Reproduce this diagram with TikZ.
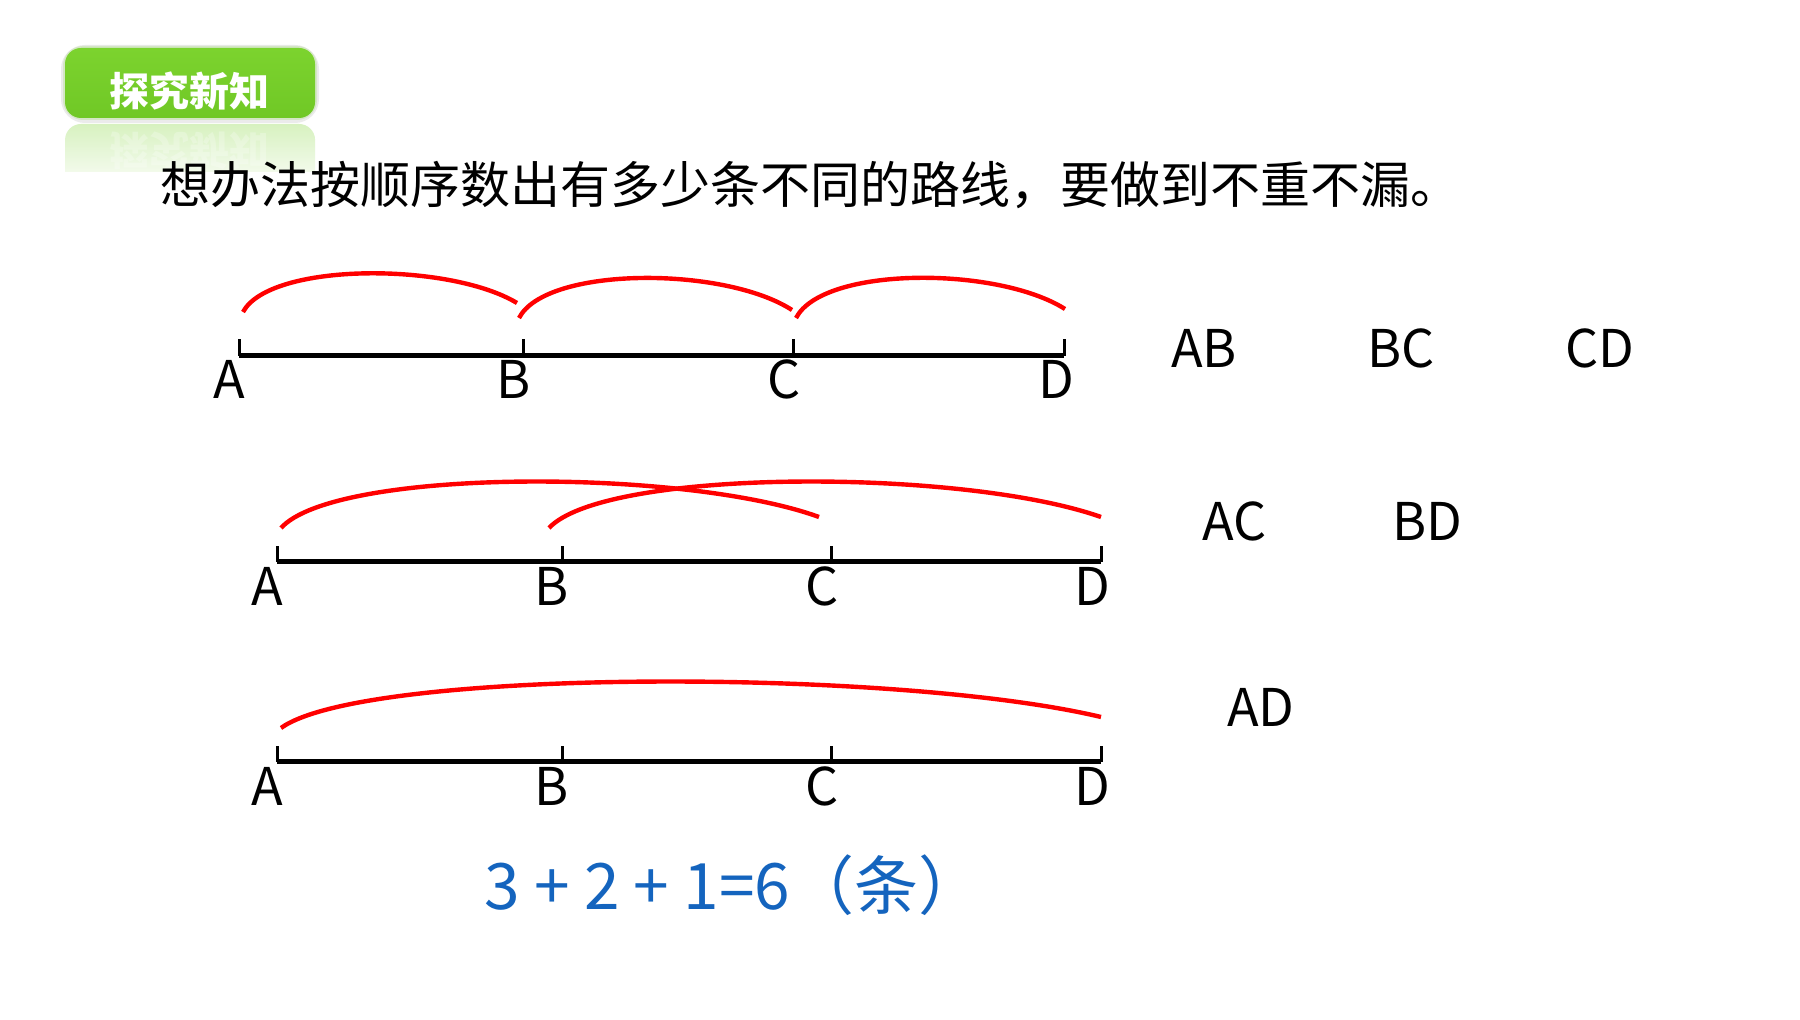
\documentclass[tikz,border=0pt]{standalone}
\usepackage{fontspec}
\setmainfont{Noto Sans CJK SC}
\usetikzlibrary{calc,fadings}

\definecolor{hdrgreen}{RGB}{124,211,46}
\definecolor{hdrgreendark}{RGB}{112,200,38}
\definecolor{sumblue}{RGB}{20,100,190}
\definecolor{arcred}{RGB}{255,0,0}

\begin{document}
\begin{tikzpicture}[x=0.5pt,y=-0.5pt,
  seg/.style={line width=2.5pt},
  tick/.style={line width=1.5pt},
  route/.style={arcred,line width=2.2pt},
  ptlabel/.style={inner sep=0,font=\fontsize{26}{31}\selectfont},
  pairlabel/.style={inner sep=0,font=\fontsize{26}{31}\selectfont},
  hdrtext/.style={inner sep=0,text=white,font=\fontsize{20}{24}\selectfont\bfseries}]

\useasboundingbox[fill=white] (0,0) rectangle (1800,1020);

% Header tab
\draw[black,opacity=0.08,line width=4pt,rounded corners=10pt] (65,49) rectangle (315,119);
\draw[hdrgreen,opacity=0.2,line width=2pt,rounded corners=9pt] (65,48) rectangle (315,118);
\shade[top color=hdrgreen,bottom color=hdrgreendark,rounded corners=8pt] (65,48) rectangle (315,118);
\node[hdrtext] (tab) at (189,91) {探究新知};
\begin{scope}
\clip (60,124) rectangle (320,172);
\fill[hdrgreen,opacity=0.3,path fading=south,rounded corners=8pt] (65,124) rectangle (315,194);
\node[hdrtext,yscale=-1,opacity=0.25] (tabmirror) at (189,151) {探究新知};
\end{scope}

% Task
\node[anchor=west,inner sep=0,font=\fontsize{25}{30}\selectfont] (task) at (160,185)
{想办法按顺序数出有多少条不同的路线，要做到不重不漏。};

% Row 1: AB, BC, CD
\coordinate (a1) at (239,356);
\coordinate (b1) at (523,356);
\coordinate (c1) at (793,356);
\coordinate (d1) at (1064,356);
\draw[seg] (a1) -- (d1);
\draw[tick] (a1) -- ($(a1)+(0,-17)$);
\draw[tick] (b1) -- ($(b1)+(0,-17)$);
\draw[tick] (c1) -- ($(c1)+(0,-17)$);
\draw[tick] (d1) -- ($(d1)+(0,-17)$);
\node[ptlabel] (la1) at ($(a1)+(-10,23)$) {A};
\node[ptlabel] (lb1) at ($(b1)+(-9,23)$) {B};
\node[ptlabel] (lc1) at ($(c1)+(-9,23)$) {C};
\node[ptlabel] (ld1) at ($(d1)+(-8,23)$) {D};
\draw[route] ($(a1)+(4,-44)$) .. controls +(27,-50) and +(-68,-41) .. ($(b1)+(-6,-53)$);
\draw[route] ($(b1)+(-4,-38)$) .. controls +(27,-52) and +(-68,-44) .. ($(c1)+(-1,-46)$);
\draw[route] ($(c1)+(3,-38)$) .. controls +(27,-52) and +(-68,-43) .. ($(d1)+(1,-47)$);

% Row 2: AC, BD
\coordinate (a2) at (277,562);
\coordinate (b2) at (562,562);
\coordinate (c2) at (831,562);
\coordinate (d2) at (1101,562);
\draw[seg] (a2) -- (d2);
\draw[tick] (a2) -- ($(a2)+(0,-16)$);
\draw[tick] (b2) -- ($(b2)+(0,-16)$);
\draw[tick] (c2) -- ($(c2)+(0,-16)$);
\draw[tick] (d2) -- ($(d2)+(0,-16)$);
\node[ptlabel] (la2) at ($(a2)+(-10,24)$) {A};
\node[ptlabel] (lb2) at ($(b2)+(-10,24)$) {B};
\node[ptlabel] (lc2) at ($(c2)+(-9,24)$) {C};
\node[ptlabel] (ld2) at ($(d2)+(-9,24)$) {D};
\draw[route] ($(a2)+(4,-34)$) .. controls +(54,-60) and +(-135,-49) .. ($(c2)+(-12,-45)$);
\draw[route] ($(b2)+(-13,-34)$) .. controls +(56,-60) and +(-139,-49) .. ($(d2)+(0,-45)$);

% Row 3: AD
\coordinate (a3) at (277,762);
\coordinate (b3) at (562,762);
\coordinate (c3) at (831,762);
\coordinate (d3) at (1101,762);
\draw[seg] (a3) -- (d3);
\draw[tick] (a3) -- ($(a3)+(0,-16)$);
\draw[tick] (b3) -- ($(b3)+(0,-16)$);
\draw[tick] (c3) -- ($(c3)+(0,-16)$);
\draw[tick] (d3) -- ($(d3)+(0,-16)$);
\node[ptlabel] (la3) at ($(a3)+(-10,24)$) {A};
\node[ptlabel] (lb3) at ($(b3)+(-10,24)$) {B};
\node[ptlabel] (lc3) at ($(c3)+(-9,24)$) {C};
\node[ptlabel] (ld3) at ($(d3)+(-9,24)$) {D};
\draw[route] ($(a3)+(4,-34)$) .. controls +(83,-60) and +(-206,-49) .. ($(d3)+(0,-45)$);

% Routes found
\node[pairlabel] (ab) at (1204,348) {AB};
\node[pairlabel] (bc) at (1401,348) {BC};
\node[pairlabel] (cd) at (1600,348) {CD};
\node[pairlabel] (ac) at (1235,521) {AC};
\node[pairlabel] (bd) at (1427,521) {BD};
\node[pairlabel] (ad) at (1261,707) {AD};

% Sum
\node[anchor=base west,inner sep=0,text=sumblue,font=\fontsize{32}{38}\selectfont] (sum) at (484,910)
{3 + 2 + 1=6（条）};

\end{tikzpicture}
\end{document}
